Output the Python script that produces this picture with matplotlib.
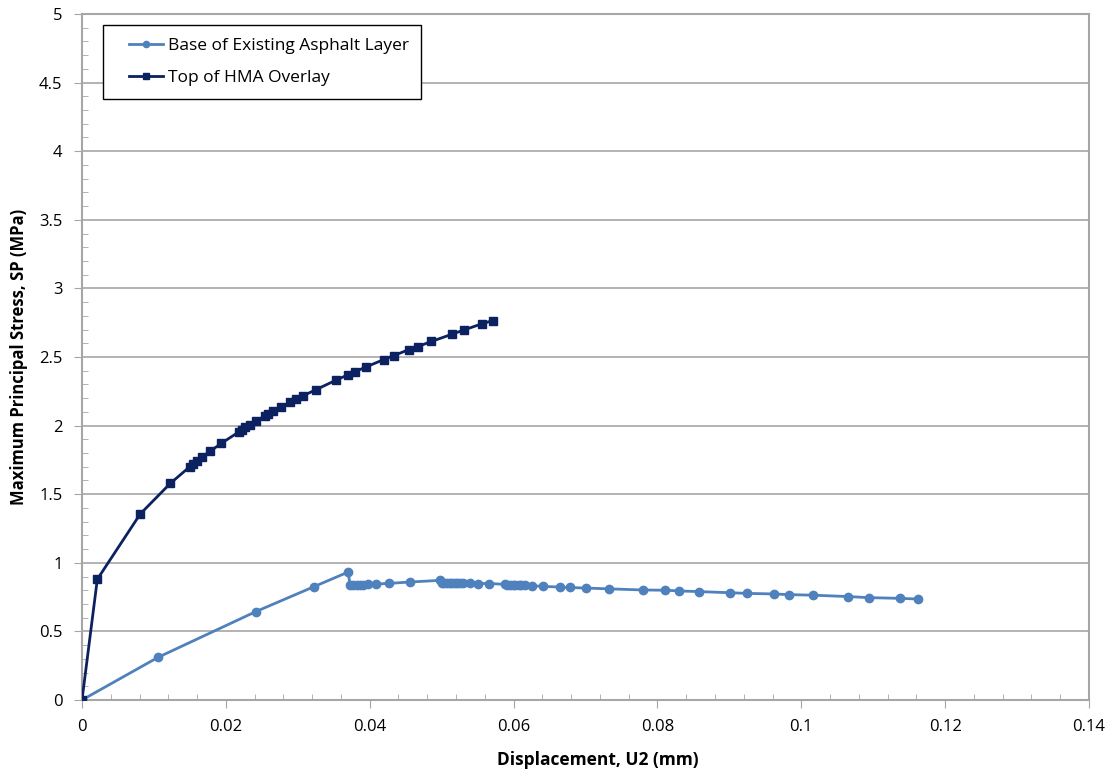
import matplotlib
matplotlib.use("Agg")
import matplotlib.pyplot as plt
from matplotlib.ticker import MultipleLocator
from matplotlib.legend_handler import HandlerLine2D
from matplotlib.lines import Line2D

# Base of Existing Asphalt Layer
base_x = [0.0, 0.01057, 0.02415, 0.03225, 0.03702, 0.03726, 0.03772, 0.0382, 0.03865, 0.0391, 0.0397,
          0.0409, 0.0427, 0.0456, 0.04977, 0.0500, 0.0503, 0.0507, 0.0511, 0.0514, 0.0518, 0.0522,
          0.0526, 0.0530, 0.0539, 0.05505, 0.0566, 0.0588, 0.0591, 0.0595, 0.0599, 0.0602, 0.0607,
          0.0611, 0.0616, 0.0626, 0.0641, 0.0664, 0.0678, 0.0700, 0.0733, 0.0780, 0.0811, 0.0830,
          0.0858, 0.0901, 0.0925, 0.0962, 0.0983, 0.1016, 0.1065, 0.1094, 0.1137, 0.1162]
base_y = [0.0, 0.311, 0.644, 0.826, 0.933, 0.835, 0.838, 0.839, 0.840, 0.841, 0.843,
          0.845, 0.850, 0.860, 0.872, 0.855, 0.852, 0.851, 0.850, 0.850, 0.850, 0.850,
          0.850, 0.850, 0.850, 0.849, 0.849, 0.843, 0.840, 0.839, 0.838, 0.838, 0.838,
          0.838, 0.837, 0.833, 0.828, 0.823, 0.820, 0.816, 0.810, 0.802, 0.800, 0.795,
          0.790, 0.782, 0.777, 0.773, 0.768, 0.764, 0.754, 0.746, 0.741, 0.736]

# Top of HMA Overlay
top_x = [0.0, 0.00213, 0.0081, 0.01228, 0.0150, 0.01548, 0.01594, 0.01673, 0.0178, 0.01937,
         0.02187, 0.0222, 0.02266, 0.02336, 0.02415, 0.02544, 0.0259, 0.0266, 0.02767, 0.02892,
         0.0297, 0.03077, 0.03253, 0.03526, 0.03692, 0.03795, 0.03948, 0.04193, 0.04332, 0.04546,
         0.0467, 0.04856, 0.05144, 0.0531, 0.05566, 0.05709]
top_y = [0.0, 0.880, 1.356, 1.579, 1.701, 1.720, 1.744, 1.773, 1.812, 1.871,
         1.956, 1.968, 1.988, 2.007, 2.031, 2.072, 2.087, 2.106, 2.133, 2.170,
         2.191, 2.218, 2.262, 2.330, 2.369, 2.393, 2.427, 2.481, 2.510, 2.554,
         2.576, 2.613, 2.666, 2.697, 2.743, 2.765]

x_ticks = [0, 0.02, 0.04, 0.06, 0.08, 0.1, 0.12, 0.14]
x_ticklabels = ["0", "0.02", "0.04", "0.06", "0.08", "0.1", "0.12", "0.14"]
y_ticks = [0, 0.5, 1, 1.5, 2, 2.5, 3, 3.5, 4, 4.5, 5]
y_ticklabels = ["0", "0.5", "1", "1.5", "2", "2.5", "3", "3.5", "4", "4.5", "5"]

plt.rcParams['font.family'] = ['Open Sans', 'DejaVu Sans']

fig = plt.figure(figsize=(11.19, 7.71), dpi=100)
ax = fig.add_axes([82/1119, 1-700/771, (1089-82)/1119, (700-14)/771])

grid_c = '#A6A6A6'
ax.plot(base_x, base_y, color='#4F81BD', lw=2, marker='o', ms=6, label='Base of Existing Asphalt Layer', zorder=3)
ax.plot(top_x, top_y, color='#0B2160', lw=2, marker='s', ms=6, label='Top of HMA Overlay', zorder=4)

ax.set_xlim(0, 0.14)
ax.set_ylim(0, 5)
ax.set_xticks(x_ticks)
ax.set_xticklabels(x_ticklabels)
ax.set_yticks(y_ticks)
ax.set_yticklabels(y_ticklabels)
ax.xaxis.set_minor_locator(MultipleLocator(0.004))
ax.yaxis.set_minor_locator(MultipleLocator(0.1))
ax.tick_params(axis='both', which='major', direction='out', length=6, color=grid_c, labelsize=12, pad=8)
ax.tick_params(axis='both', which='minor', direction='in', length=4, color=grid_c)
ax.yaxis.grid(True, which='major', color=grid_c, lw=1.2)
ax.set_axisbelow(True)
for s in ax.spines.values():
    s.set_color(grid_c)
    s.set_linewidth(1.5)

ax.set_xlabel('Displacement, U2 (mm)', fontsize=12.5, fontweight='bold')
ax.xaxis.set_label_coords(0.512, -0.075)
ax.set_ylabel('Maximum Principal Stress, SP (MPa)', fontsize=12, fontweight='bold', labelpad=8)

leg = ax.legend(loc='upper left', bbox_to_anchor=(0.021, 0.984), borderaxespad=0, fontsize=12.5,
                frameon=True, fancybox=False, edgecolor='black', framealpha=1, borderpad=0.72,
                handlelength=2.7, handletextpad=0.3, labelspacing=0.95, markerscale=0.75,
                handler_map={Line2D: HandlerLine2D(xpad=0.75)})
leg.get_frame().set_linewidth(1.0)

fig.savefig('out.png', dpi=100)
